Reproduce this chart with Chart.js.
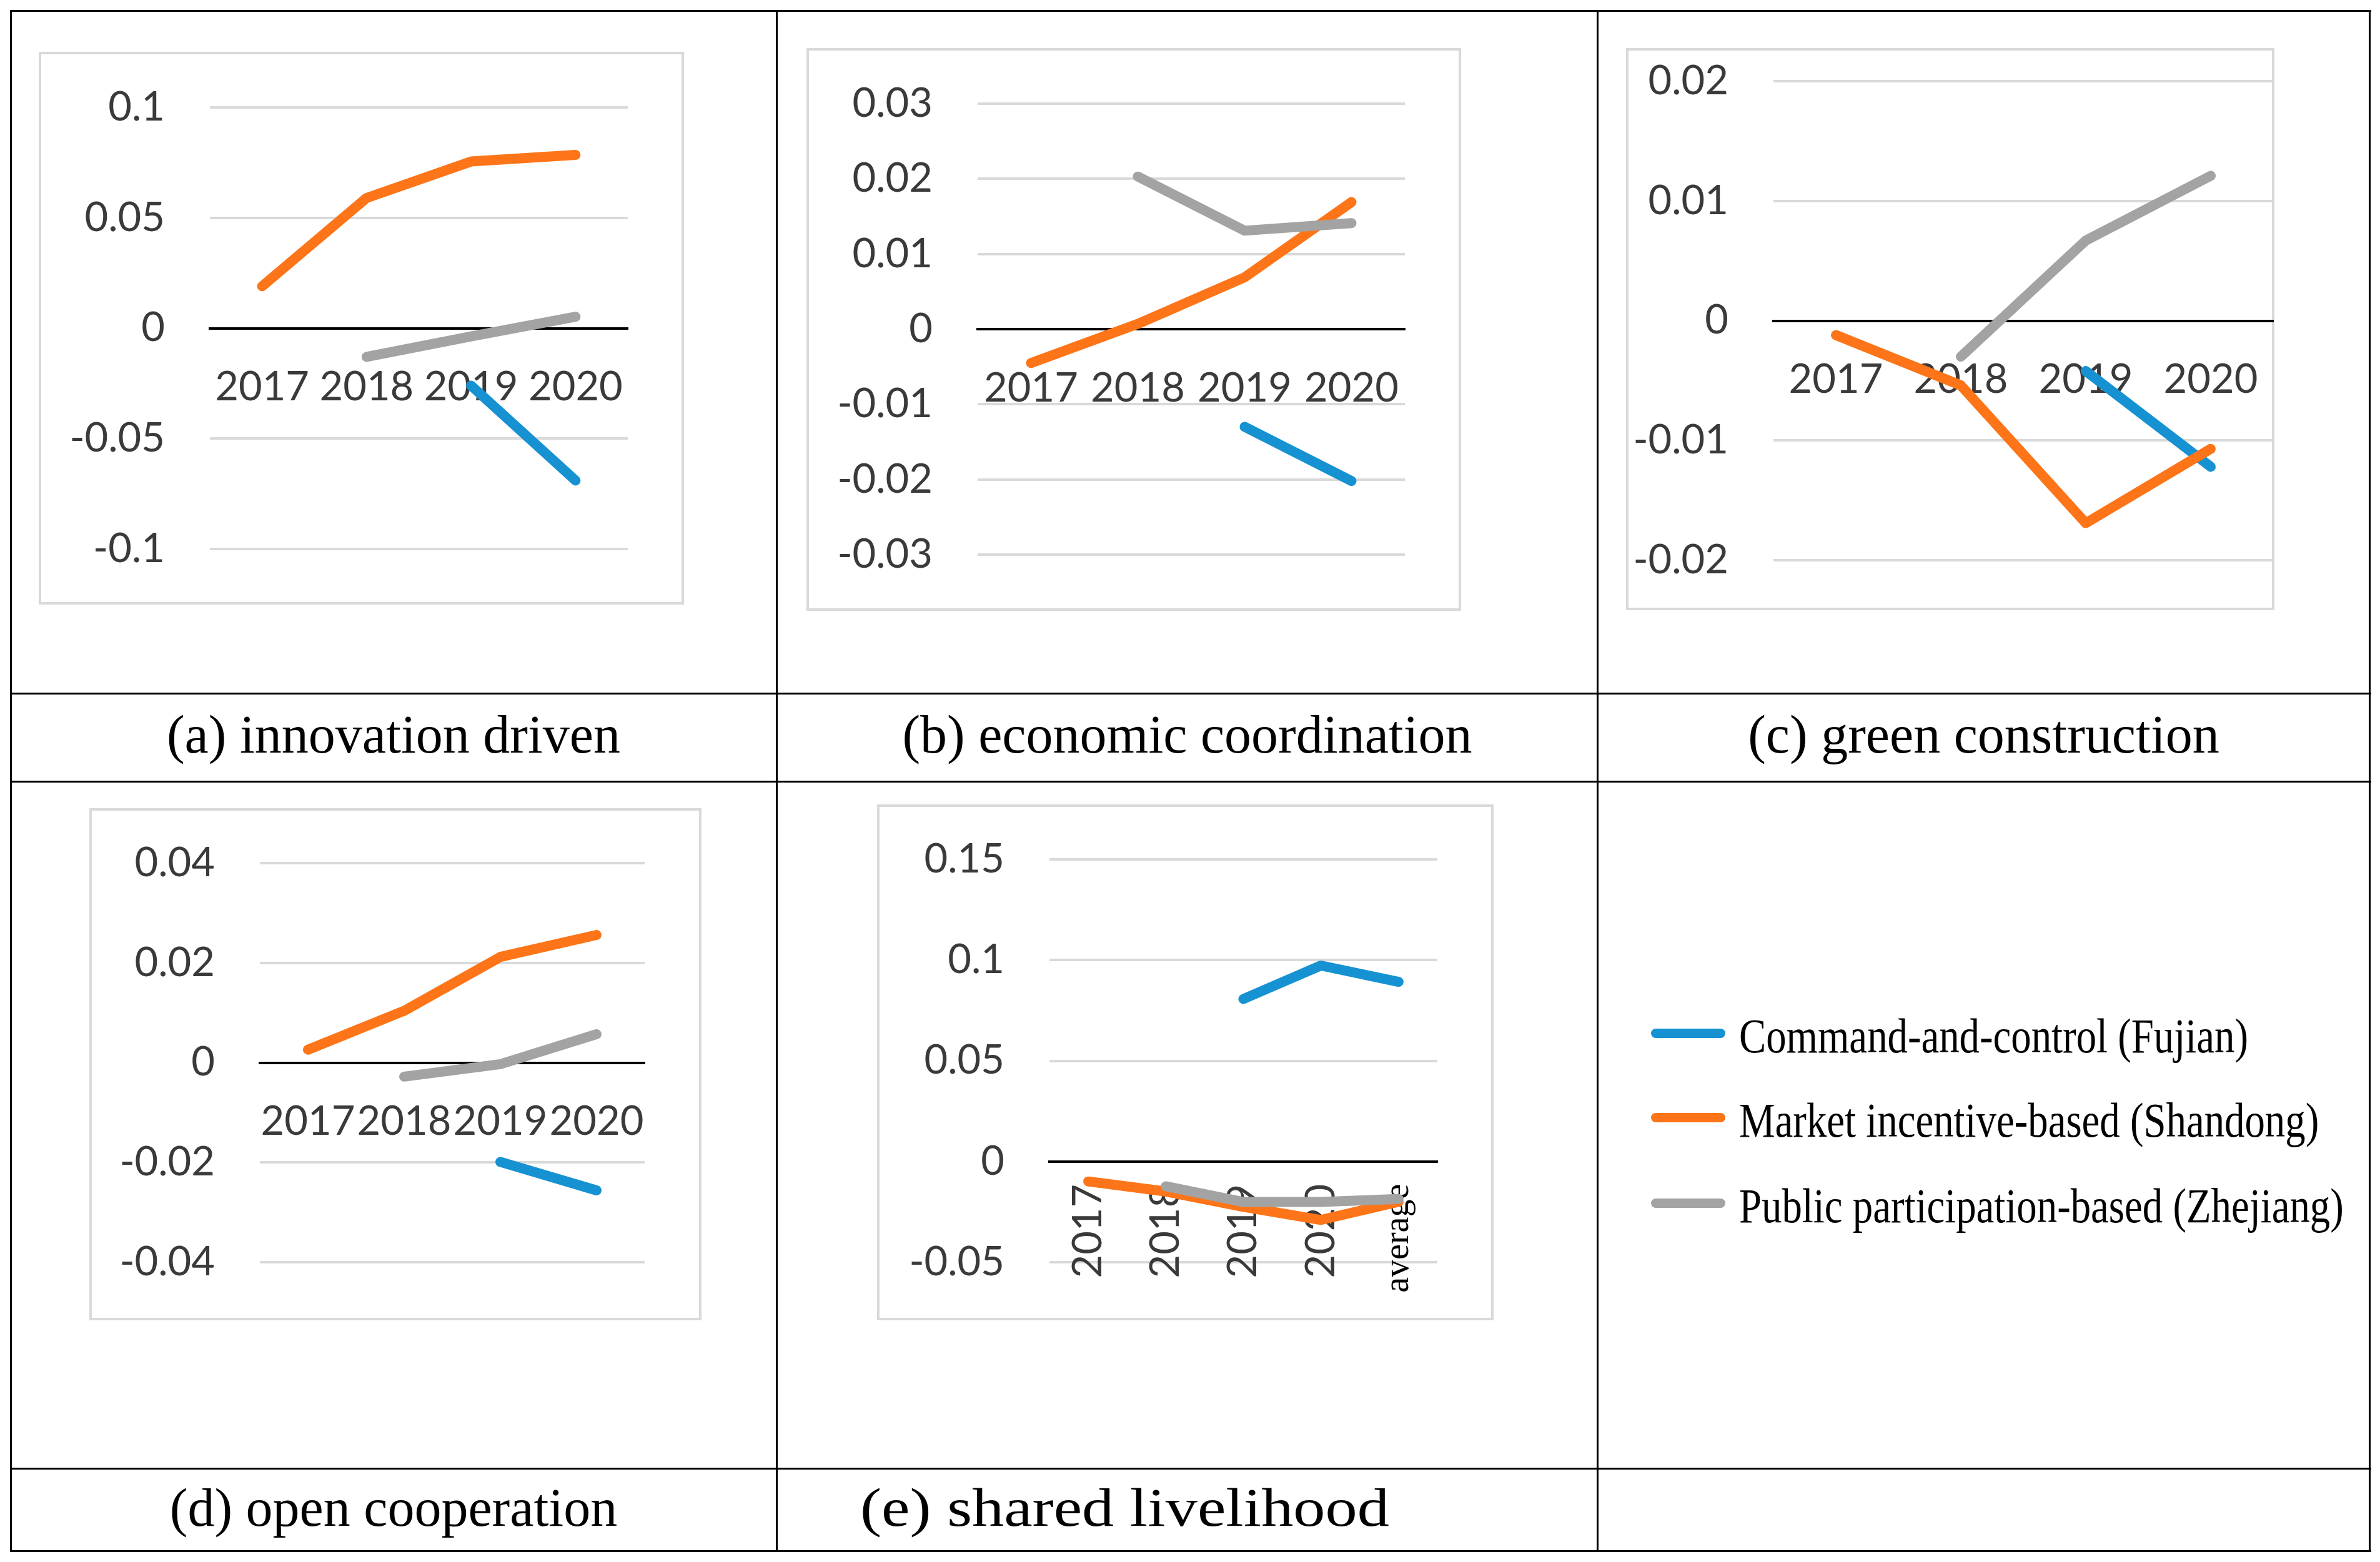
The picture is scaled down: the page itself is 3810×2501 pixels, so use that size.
<!DOCTYPE html>
<html>
<head>
<meta charset="utf-8">
<script src="https://cdn.jsdelivr.net/npm/chart.js@4.4.0/dist/chart.umd.min.js"></script>
<style>
  html, body { margin: 0; padding: 0; background: #fff; }
  #page { position: relative; width: 3810px; height: 2501px; overflow: hidden; background: #fff; }
  .rule { position: absolute; background: #000; }
  .frame { position: absolute; box-sizing: border-box; border: 4px solid #d9d9d9; }
  .panel { position: absolute; }
  .caption { position: absolute; font-family: "Liberation Serif", "Times New Roman", serif; font-size: 86px; line-height: 86px; color: #000; white-space: nowrap; transform-origin: left center; }
  .legend-line { position: absolute; height: 15px; border-radius: 8px; }
  .legend-text { position: absolute; font-family: "Liberation Serif", "Times New Roman", serif; font-size: 79px; line-height: 79px; color: #000; white-space: nowrap; transform: scaleX(0.82); transform-origin: left center; }
</style>
</head>
<body>
<div id="page"></div>
<script>
// categories
const years = ['2017', '2018', '2019', '2020'];
const yearsAvg = ['2017', '2018', '2019', '2020', 'average'];
const seriesNames = ['Command-and-control (Fujian)', 'Market incentive-based (Shandong)', 'Public participation-based (Zhejiang)'];
const seriesColours = ['#1692d2', '#fd7518', '#a3a3a3'];

// (a) innovation driven
const innovationFujian = [null, null, -0.026, -0.069];
const innovationShandong = [0.019, 0.059, 0.0755, 0.0785];
const innovationZhejiang = [null, -0.013, -0.0037, 0.0052];
const innovationTicks = [-0.1, -0.05, 0, 0.05, 0.1];

// (b) economic coordination
const economicFujian = [null, null, -0.013, -0.0202];
const economicShandong = [-0.0045, 0.0007, 0.0069, 0.0169];
const economicZhejiang = [null, 0.0203, 0.0131, 0.0141];
const economicTicks = [-0.03, -0.02, -0.01, 0, 0.01, 0.02, 0.03];

// (c) green construction
const greenFujian = [null, null, -0.0042, -0.0122];
const greenShandong = [-0.0012, -0.0054, -0.0169, -0.0107];
const greenZhejiang = [null, -0.003, 0.0067, 0.0121];
const greenTicks = [-0.02, -0.01, 0, 0.01, 0.02];

// (d) open cooperation
const openFujian = [null, null, -0.0199, -0.0256];
const openShandong = [0.0026, 0.0104, 0.0212, 0.0256];
const openZhejiang = [null, -0.0028, -0.0003, 0.0057];
const openTicks = [-0.04, -0.02, 0, 0.02, 0.04];

// (e) shared livelihood
const sharedFujian = [null, null, 0.0807, 0.0973, 0.0892];
const sharedShandong = [-0.0099, -0.0149, -0.0225, -0.029, -0.02];
const sharedZhejiang = [null, -0.0123, -0.0201, -0.0201, -0.0186];
const sharedTicks = [-0.05, 0, 0.05, 0.1, 0.15];

const captions = ['(a) innovation driven', '(b) economic coordination', '(c) green construction', '(d) open cooperation', '(e) shared livelihood'];

// layout of the figure (pixels)
const page = document.getElementById('page');

function rule(x, y, w, h) {
    const d = document.createElement('div');
    d.className = 'rule';
    Object.assign(d.style, { left: x + 'px', top: y + 'px', width: w + 'px', height: h + 'px' });
    page.appendChild(d);
}

// table grid
rule(16, 16, 3780, 3);
rule(16, 2482, 3780, 3);
rule(16, 16, 3, 2469);
rule(3792, 16, 3, 2469);
rule(1242, 16, 3, 2469);
rule(2556, 16, 3, 2469);
rule(16, 1109, 3780, 3);
rule(16, 1250, 3780, 3);
rule(16, 2350, 3780, 3);

const panels = [
    { box: [62, 83, 1095, 968], plot: [336, 172, 1005, 879], labels: years, ticks: innovationTicks,
      series: [innovationFujian, innovationShandong, innovationZhejiang] },
    { box: [1291, 77, 2339, 978], plot: [1565, 166, 2249, 888], labels: years, ticks: economicTicks,
      series: [economicFujian, economicShandong, economicZhejiang] },
    { box: [2603, 77, 3641, 977], plot: [2839, 130, 3639, 897], labels: years, ticks: greenTicks,
      series: [greenFujian, greenShandong, greenZhejiang] },
    { box: [143, 1294, 1123, 2114], plot: [416, 1382, 1032, 2021], labels: years, ticks: openTicks,
      series: [openFujian, openShandong, openZhejiang] },
    { box: [1404, 1288, 2391, 2114], plot: [1680, 1376, 2301, 2021], labels: yearsAvg, ticks: sharedTicks,
      series: [sharedFujian, sharedShandong, sharedZhejiang], rotated: true },
];

const tickFont = { family: 'Lato, "Open Sans", sans-serif', size: 65 };
const tickColour = '#3a3a3a';

panels.forEach(p => {
    const [bx0, by0, bx1, by1] = p.box;
    const [px0, py0, px1, py1] = p.plot;
    const w = bx1 - bx0, h = by1 - by0;

    const frame = document.createElement('div');
    frame.className = 'frame';
    Object.assign(frame.style, { left: bx0 + 'px', top: by0 + 'px', width: w + 'px', height: h + 'px' });
    page.appendChild(frame);

    const canvas = document.createElement('canvas');
    canvas.className = 'panel';
    canvas.width = w;
    canvas.height = h;
    Object.assign(canvas.style, { left: bx0 + 'px', top: by0 + 'px', width: w + 'px', height: h + 'px' });
    page.appendChild(canvas);

    const padLeft = 10;
    const yAxisWidth = px0 - bx0 - padLeft;

    new Chart(canvas.getContext('2d'), {
        type: 'line',
        data: {
            labels: p.labels,
            datasets: p.series.map((values, i) => ({
                label: seriesNames[i],
                data: values,
                borderColor: seriesColours[i],
                backgroundColor: seriesColours[i],
                borderWidth: 16,
                borderCapStyle: 'round',
                borderJoinStyle: 'round',
                pointRadius: 0,
                tension: 0,
                spanGaps: false,
                order: 2 - i,
            })),
        },
        options: {
            responsive: false,
            animation: false,
            devicePixelRatio: 1,
            layout: {
                padding: { left: padLeft, top: py0 - by0, right: bx1 - px1, bottom: by1 - py1 },
            },
            plugins: {
                legend: { display: false },
                tooltip: { enabled: false },
            },
            scales: {
                x: {
                    type: 'category',
                    position: { y: 0 },
                    offset: true,
                    afterFit: scale => { scale.paddingLeft = 0; scale.paddingRight = 0; },
                    grid: { display: true, color: 'rgba(0,0,0,0)', drawTicks: false },
                    border: { display: true, color: '#000000', width: 4 },
                    ticks: {
                        autoSkip: false,
                        minRotation: p.rotated ? 90 : 0,
                        maxRotation: p.rotated ? 90 : 0,
                        padding: p.rotated ? 36 : 56,
                        font: ctx => (ctx.tick && ctx.tick.label === 'average')
                            ? { family: '"Liberation Serif", "Times New Roman", serif', size: 56 }
                            : tickFont,
                        color: ctx => (ctx.tick && ctx.tick.label === 'average') ? '#000000' : tickColour,
                    },
                },
                y: {
                    min: p.ticks[0],
                    max: p.ticks[p.ticks.length - 1],
                    afterBuildTicks: scale => { scale.ticks = p.ticks.map(v => ({ value: v })); },
                    afterFit: scale => {
                        scale.width = yAxisWidth;
                        scale.paddingTop = 0;
                        scale.paddingBottom = 0;
                    },
                    grid: { color: '#d9d9d9', lineWidth: 4, drawTicks: false },
                    border: { display: false },
                    ticks: {
                        padding: 72,
                        font: tickFont,
                        color: tickColour,
                        callback: v => String(Number(Number(v).toFixed(4))),
                    },
                },
            },
        },
    });
});

// captions
const captionSpots = [
    { left: 17, width: 1226, top: 1133, align: 'center' },
    { left: 1244, width: 1313, top: 1133, align: 'center' },
    { left: 2558, width: 1235, top: 1133, align: 'center' },
    { left: 17, width: 1226, top: 2371, align: 'center' },
    { left: 1377, width: 1000, top: 2371, align: 'left', stretch: 1.19 },
];
captions.forEach((text, i) => {
    const s = captionSpots[i];
    const d = document.createElement('div');
    d.className = 'caption';
    d.textContent = text;
    Object.assign(d.style, { left: s.left + 'px', width: s.width + 'px', top: s.top + 'px', textAlign: s.align });
    if (s.stretch) d.style.transform = 'scaleX(' + s.stretch + ')';
    page.appendChild(d);
});

// legend
const legendCentres = [1654, 1789, 1926];
seriesNames.forEach((name, i) => {
    const line = document.createElement('div');
    line.className = 'legend-line';
    Object.assign(line.style, { left: '2643px', width: '119px', top: (legendCentres[i] - 7) + 'px', background: seriesColours[i] });
    page.appendChild(line);

    const t = document.createElement('div');
    t.className = 'legend-text';
    t.textContent = name;
    Object.assign(t.style, { left: '2784px', top: (legendCentres[i] + 31 - 66) + 'px' });
    page.appendChild(t);
});
</script>
</body>
</html>
